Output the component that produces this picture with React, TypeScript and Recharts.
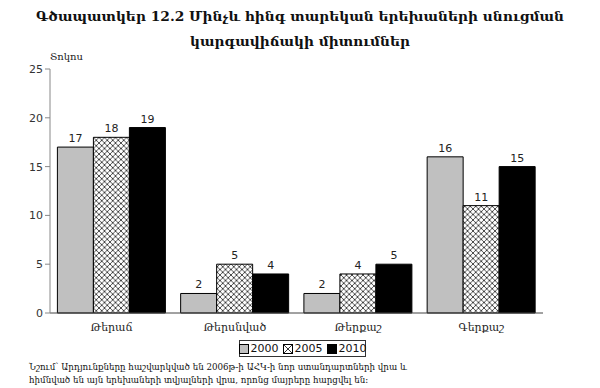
import { Bar, BarChart, LabelList, XAxis, YAxis } from "recharts";

const categories = ["Թերաճ", "Թերսնված", "Թերքաշ", "Գերքաշ"];
const y2000 = [17, 2, 2, 16];
const y2005 = [18, 5, 4, 11];
const y2010 = [19, 4, 5, 15];
const yTicks = [0, 5, 10, 15, 20, 25];

const data = categories.map((name, i) => ({
  name,
  y2000: y2000[i],
  y2005: y2005[i],
  y2010: y2010[i],
}));

const serif = "'DejaVu Serif', serif";
const sans = "'DejaVu Sans', sans-serif";

function Swatch({ kind }: { kind: "gray" | "hatch" | "black" }) {
  return (
    <svg width={10} height={10} style={{ marginRight: 2 }}>
      {kind === "hatch" ? (
        <>
          <rect x={0.5} y={0.5} width={9} height={9} fill="#fff" stroke="#000" />
          <path d="M0.5 0.5 L9.5 9.5 M9.5 0.5 L0.5 9.5" stroke="#000" strokeWidth={0.8} />
        </>
      ) : (
        <rect
          x={0.5}
          y={0.5}
          width={9}
          height={9}
          fill={kind === "gray" ? "#c0c0c0" : "#000"}
          stroke="#000"
        />
      )}
    </svg>
  );
}

export default function App() {
  return (
    <div
      style={{
        position: "absolute",
        left: 0,
        top: 0,
        width: 600,
        height: 388,
        background: "#fff",
        overflow: "hidden",
      }}
    >
      <div
        style={{
          position: "absolute",
          top: 4,
          left: 0,
          width: 600,
          textAlign: "center",
          fontFamily: serif,
          fontWeight: "bold",
          fontSize: 13.8,
          lineHeight: "25px",
          color: "#111",
          whiteSpace: "nowrap",
        }}
      >
        Գծապատկեր 12.2 Մինչև հինգ տարեկան երեխաների սնուցման
        <br />
        կարգավիճակի միտումներ
      </div>
      <div
        style={{
          position: "absolute",
          left: 50,
          top: 51,
          fontFamily: serif,
          fontSize: 10,
          color: "#222",
        }}
      >
        Տոկոս
      </div>

      <BarChart
        width={600}
        height={388}
        data={data}
        margin={{ top: 69, right: 57, left: 10, bottom: 45 }}
        barCategoryGap="6%"
        barGap={0}
      >
        <defs>
          <pattern id="hatch" width="5.5" height="5.5" patternUnits="userSpaceOnUse">
            <rect width="5.5" height="5.5" fill="#fff" />
            <path d="M0 0 L5.5 5.5 M5.5 0 L0 5.5" stroke="#000" strokeWidth={0.7} />
          </pattern>
        </defs>
        <XAxis
          dataKey="name"
          tickLine={false}
          axisLine={{ stroke: "#444" }}
          tick={{ fontFamily: serif, fontSize: 11, fill: "#222" }}
          tickMargin={4}
          height={30}
        />
        <YAxis
          domain={[0, 25]}
          ticks={yTicks}
          width={40}
          axisLine={{ stroke: "#888" }}
          tickLine={{ stroke: "#888" }}
          tickSize={5}
          tick={{ fontFamily: sans, fontSize: 11, fill: "#333" }}
        />
        <Bar dataKey="y2000" fill="#c0c0c0" stroke="#000" strokeWidth={1} isAnimationActive={false}>
          <LabelList dataKey="y2000" position="top" style={{ fontFamily: sans, fontSize: 11, fill: "#222" }} />
        </Bar>
        <Bar dataKey="y2005" fill="url(#hatch)" stroke="#000" strokeWidth={1} isAnimationActive={false}>
          <LabelList dataKey="y2005" position="top" style={{ fontFamily: sans, fontSize: 11, fill: "#222" }} />
        </Bar>
        <Bar dataKey="y2010" fill="#000" stroke="#000" strokeWidth={1} isAnimationActive={false}>
          <LabelList dataKey="y2010" position="top" style={{ fontFamily: sans, fontSize: 11, fill: "#222" }} />
        </Bar>
      </BarChart>

      <div
        style={{
          position: "absolute",
          left: 239,
          top: 340,
          width: 125,
          height: 15,
          border: "1px solid #333",
          display: "flex",
          alignItems: "center",
          justifyContent: "center",
          gap: 4,
          fontFamily: sans,
          fontSize: 11,
          color: "#111",
        }}
      >
        <span style={{ display: "flex", alignItems: "center" }}>
          <Swatch kind="gray" />
          2000
        </span>
        <span style={{ display: "flex", alignItems: "center" }}>
          <Swatch kind="hatch" />
          2005
        </span>
        <span style={{ display: "flex", alignItems: "center" }}>
          <Swatch kind="black" />
          2010
        </span>
      </div>

      <div
        style={{
          position: "absolute",
          left: 29,
          top: 361,
          fontFamily: serif,
          fontSize: 8.7,
          lineHeight: "13px",
          color: "#111",
          whiteSpace: "nowrap",
        }}
      >
        Նշում՝ Արդյունքները հաշվարկված են 2006թ-ի ԱՀԿ-ի նոր ստանդարտների վրա և
        <br />
        հիմնված են այն երեխաների տվյալների վրա, որոնց մայրերը հարցվել են։
      </div>
    </div>
  );
}
